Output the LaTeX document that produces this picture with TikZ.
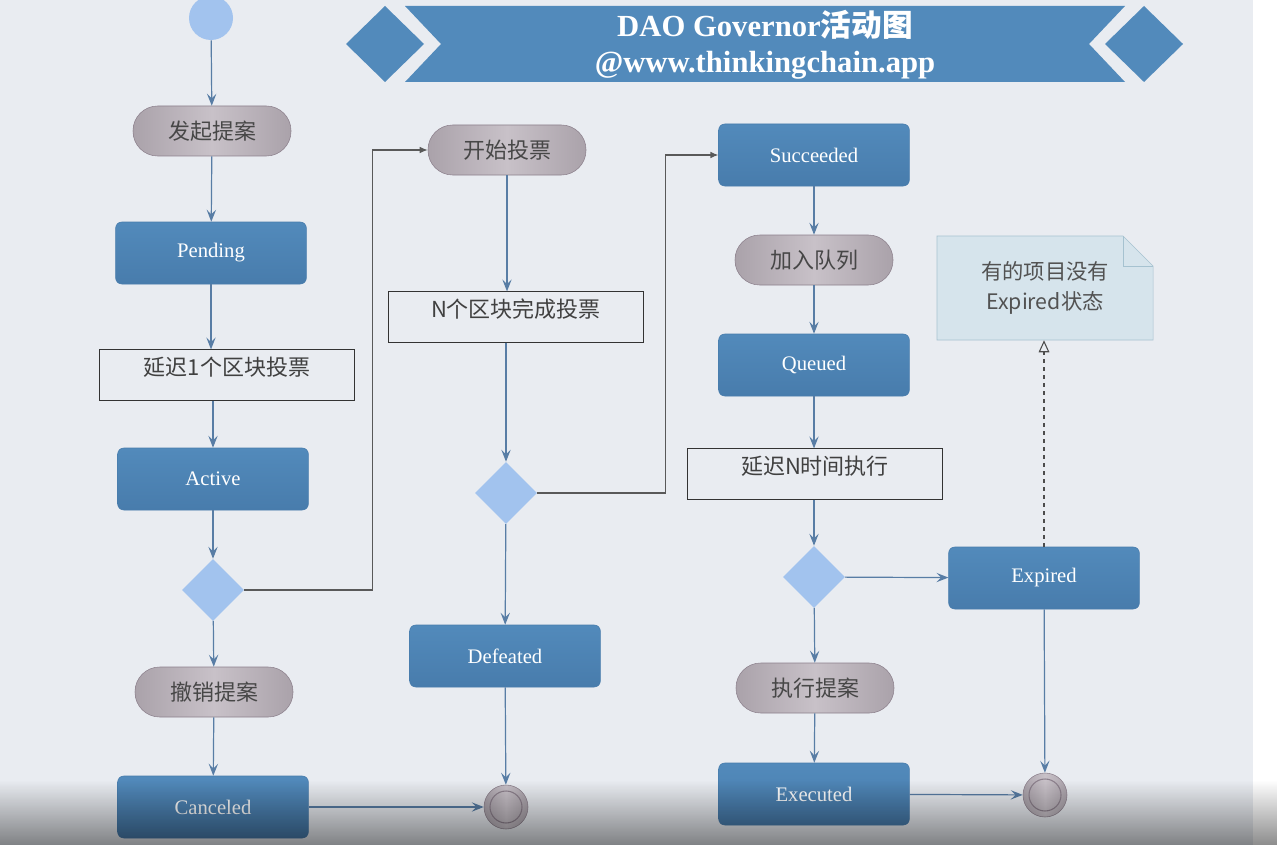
\documentclass[tikz,border=0pt]{standalone}
\usepackage{fontspec}
\setmainfont{Liberation Serif}
\newfontfamily\cjk{Noto Sans CJK SC}
\usepackage{xcolor}
\usetikzlibrary{arrows.meta}
\usetikzlibrary{shapes.geometric}
\usetikzlibrary{fadings}
\definecolor{mybg}{RGB}{233,236,241}
\definecolor{myblue}{RGB}{82,138,187}
\definecolor{mydark}{RGB}{72,124,172}
\definecolor{mylight}{RGB}{162,195,238}
\definecolor{mypill}{RGB}{200,193,200}
\definecolor{mypilledge}{RGB}{170,162,170}
\definecolor{mypillline}{RGB}{140,128,140}
\definecolor{myline}{RGB}{88,125,165}
\definecolor{mynote}{RGB}{214,228,236}
\definecolor{mynoteline}{RGB}{166,194,208}

\begin{document}
\begin{tikzpicture}[x=0.75pt,y=-0.75pt,
  state/.style={rectangle, rounded corners=4.5pt, top color=myblue, bottom color=mydark,
    draw=mydark, minimum width=143pt, minimum height=46.5pt, text=white,
    font=\fontsize{15.5}{17}\selectfont},
  action/.style={rectangle, rounded corners=18.5pt, left color=mypilledge, right color=mypilledge,
    middle color=mypill, draw=mypillline, minimum width=118.5pt, minimum height=37.5pt,
    text=black!72, font=\cjk\fontsize{16.5}{18}\selectfont},
  wait/.style={rectangle, draw=black!80, fill=mybg, minimum width=191pt, minimum height=38pt,
    text=black!75, text height=15pt, text depth=15pt, font=\cjk\fontsize{16.5}{18}\selectfont},
  choice/.style={diamond, aspect=1, fill=mylight, minimum size=46.5pt, inner sep=0pt},
  startdot/.style={circle, fill=mylight, minimum size=33pt, inner sep=0pt},
  enddot/.style={circle, left color=mypilledge, right color=mypilledge, middle color=mypill,
    draw=mypillline, minimum size=33pt, inner sep=0pt,
    path picture={\draw[mypillline, line width=0.8pt] (path picture bounding box.center) circle (12pt);}},
  notebox/.style={rectangle, minimum width=162pt, minimum height=78pt, align=center,
    text=black!68, font=\cjk\fontsize{16}{22}\selectfont},
  flow/.style={draw=myline, line width=0.9pt, -{Stealth[length=9pt, width=7pt, inset=3.5pt]}},
  jump/.style={draw=black!65, line width=0.9pt, -{Latex[length=6pt, width=5pt]}},
]
\useasboundingbox (0,0) rectangle (1280,845);
\fill[mybg] (0,0) rectangle (1253,845);
\fill[white] (1253,0) rectangle (1280,845);

% title banner
\fill[myblue] (405,6) -- (1125,6) -- (1089,44) -- (1125,82) -- (405,82) -- (441,44) -- cycle;
\fill[myblue] (346,44) -- (385,6) -- (424,44) -- (385,82) -- cycle;
\fill[myblue] (1105,44) -- (1144,6) -- (1183,44) -- (1144,82) -- cycle;
\node[text=white, font=\bfseries\fontsize{23}{25}\selectfont] (title) at (765,25) {DAO Governor{\cjk 活动图}};
\node[text=white, font=\bfseries\fontsize{23}{25}\selectfont] (site) at (765,65) {@www.thinkingchain.app};

% note
\fill[mynote, draw=mynoteline] (937,236) -- (1123,236) -- (1153,266) -- (1153,340) -- (937,340) -- cycle;
\draw[mynoteline] (1123,236) -- (1123,266) -- (1153,266);
\node[notebox] (note) at (1045,288) {有的项目没有\\Expired状态};

% first column
\node[startdot] (start) at (211,18) {};
\node[action] (propose) at (212,131) {发起提案};
\node[state] (pending) at (211,253) {Pending};
\node[wait] (delay1) at (227,375) {延迟1个区块投票};
\node[state] (active) at (213,479) {Active};
\node[choice] (check1) at (213,590) {};
\node[action] (cancelact) at (214,692) {撤销提案};
\node[state] (canceled) at (213,807) {Canceled};
\node[enddot] (end1) at (506,807) {};

% second column
\node[action] (vote) at (507,150) {开始投票};
\node[wait] (count) at (516,317) {N个区块完成投票};
\node[choice] (check2) at (506,493) {};
\node[state] (defeated) at (505,656) {Defeated};

% third column
\node[state] (succeeded) at (814,155) {Succeeded};
\node[action] (queueact) at (814,260) {加入队列};
\node[state] (queued) at (814,365) {Queued};
\node[wait] (delayN) at (815,474) {延迟N时间执行};
\node[choice] (check3) at (814,577) {};
\node[action] (execact) at (815,688) {执行提案};
\node[state] (executed) at (814,794) {Executed};
\node[state] (expired) at (1044,578) {Expired};
\node[enddot] (end2) at (1045,795) {};

\draw[flow] (start) -- (propose);
\draw[flow] (propose) -- (pending);
\draw[flow] (pending) -- (pending |- delay1.north);
\draw[flow] (active |- delay1.south) -- (active);
\draw[flow] (active) -- (check1);
\draw[flow] (check1) -- (cancelact);
\draw[flow] (cancelact) -- (canceled);
\draw[flow] (canceled) -- (end1);
\draw[jump] (check1.east) -- ++(128,0) |- (vote);

\draw[flow] (vote) -- (vote |- count.north);
\draw[flow] (check2 |- count.south) -- (check2);
\draw[flow] (check2) -- (defeated);
\draw[flow] (defeated) -- (end1);
\draw[jump] (check2.east) -- ++(128,0) |- (succeeded);

\draw[flow] (succeeded) -- (queueact);
\draw[flow] (queueact) -- (queued);
\draw[flow] (queued) -- (queued |- delayN.north);
\draw[flow] (check3 |- delayN.south) -- (check3);
\draw[flow] (check3) -- (execact);
\draw[flow] (execact) -- (executed);
\draw[flow] (executed) -- (end2);
\draw[flow] (check3) -- (expired);
\draw[flow] (expired) -- (end2);
\draw[draw=black!70, line width=0.8pt, dashed, -{Triangle[open, length=9pt, width=8pt]}] (expired.north) -- (expired.north |- note.south);

% player shadow at the bottom
\fill[black, path fading=north, opacity=0.45] (0,780) rectangle (1280,845);
\end{tikzpicture}
\end{document}
